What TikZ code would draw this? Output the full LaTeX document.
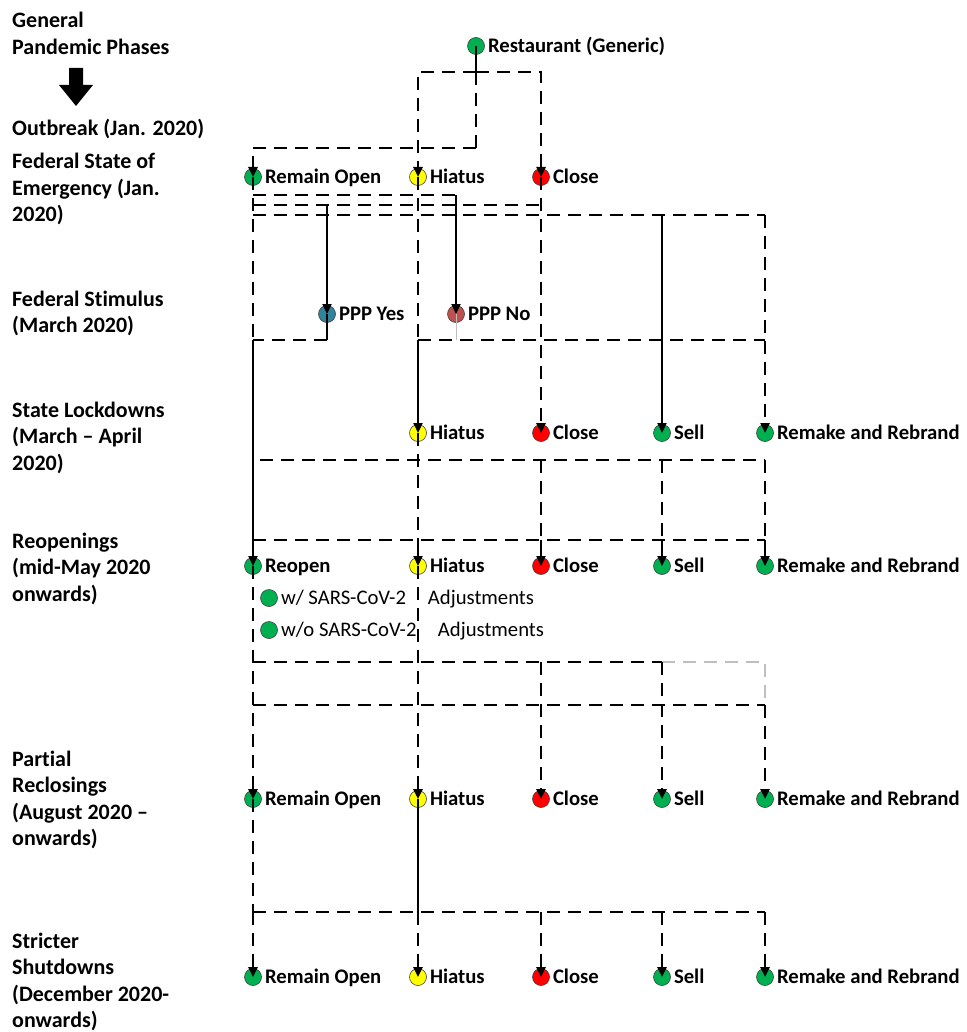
\documentclass[tikz,border=0pt]{standalone}
\usepackage{fontspec}
\setmainfont{Carlito}[Ligatures={TeX,NoCommon}]
\usepackage{xcolor}
\usetikzlibrary{arrows.meta, positioning, calc}
\definecolor{vert}{HTML}{00B050}
\definecolor{jaune}{HTML}{FFFF00}
\definecolor{rouge}{HTML}{FF0000}
\definecolor{bleu}{HTML}{31849B}
\definecolor{brique}{HTML}{C0504D}
\tikzset{
  phase/.style={anchor=base west, text width=240pt, align=flush left, inner sep=0pt,
    font=\bfseries\fontsize{22}{26.5}\selectfont},
  pt/.style={circle, draw=black!75, line width=0.6pt, minimum size=17pt, inner sep=0pt, fill=#1},
  lbl/.style={font=\bfseries\fontsize{20.7}{24}\selectfont, inner sep=3pt, text height=13.5pt, text depth=0pt},
  sous/.style={font=\fontsize{20.7}{24}\selectfont, inner sep=3pt, text height=13.5pt, text depth=0pt},
  dline/.style={line width=2.4pt, dash pattern=on 13pt off 8pt},
  sline/.style={line width=2.2pt},
  gline/.style={line width=1pt, black!25},
  gdline/.style={line width=2.4pt, black!25, dash pattern=on 13pt off 8pt},
  fleche/.style={-{Triangle[width=9pt,length=10pt]}}
}
\begin{document}
\begin{tikzpicture}[x=1pt, y=-1pt]
    \useasboundingbox (0,0) rectangle (966,1032);
    % phases
    \node[phase] (ph0) at (12,28) {General\\Pandemic Phases};
    \fill (69,68) -- (83,68) -- (83,85) -- (93,85) -- (76,106) -- (59,85) -- (69,85) -- cycle;
    \node[phase] (ph1) at (12,136) {Outbreak (Jan. 2020)};
    \node[phase] (ph2) at (12,169) {Federal State of\\Emergency (Jan.\\2020)};
    \node[phase] (ph3) at (12,306) {Federal Stimulus\\(March 2020)};
    \node[phase] (ph4) at (12,417) {State Lockdowns\\(March -- April\\2020)};
    \node[phase] (ph5) at (12,548) {Reopenings\\(mid-May 2020\\onwards)};
    \node[phase] (ph6) at (12,766) {Partial\\Reclosings\\(August 2020 --\\onwards)};
    \node[phase] (ph7) at (12,948) {Stricter\\Shutdowns\\(December 2020-\\onwards)};

    % choices
    \node[pt=vert, label={[lbl]right:Restaurant (Generic)}] (rest) at (476,46) {};
    \node[pt=vert, label={[lbl]right:Remain Open}] (ro1) at (253,177) {};
    \node[pt=jaune, label={[lbl]right:Hiatus}] (hia1) at (418,177) {};
    \node[pt=rouge, label={[lbl]right:Close}] (clo1) at (541,177) {};
    \node[pt=bleu, label={[lbl]right:PPP Yes}] (ppy) at (327,314) {};
    \node[pt=brique, label={[lbl]right:PPP No}] (ppn) at (456,314) {};
    \node[pt=vert, label={[lbl]right:Reopen}] (ro3) at (253,566) {};
    \node[pt=vert, label={[sous]right:\makebox[147pt][l]{w/ SARS-CoV-2}Adjustments}] (adj1) at (269,598) {};
    \node[pt=vert, label={[sous]right:\makebox[157pt][l]{w/o SARS-CoV-2}Adjustments}] (adj2) at (269,630) {};
    \node[pt=vert, label={[lbl]right:Remain Open}] (ro4) at (253,799) {};
    \node[pt=vert, label={[lbl]right:Remain Open}] (ro5) at (253,977) {};
    \foreach \r/\y in {2/433, 3/566, 4/799, 5/977} {
      \node[pt=jaune, label={[lbl]right:Hiatus}] (hia\r) at (418,\y) {};
      \node[pt=rouge, label={[lbl]right:Close}] (clo\r) at (541,\y) {};
      \node[pt=vert, label={[lbl]right:Sell}] (sel\r) at (662,\y) {};
      \node[pt=vert, label={[lbl]right:Remake and Rebrand}] (rem\r) at (765,\y) {};
    }

    % restaurant -> first choice
    \coordinate (b0a) at (0,72);
    \coordinate (b0b) at (0,148);
    \draw[sline] (rest.center) -- (rest |- b0a);
    \draw[dline] (rest |- b0a) -- (rest |- b0b);
    \draw[dline, fleche] (rest |- b0b) -| (ro1.center);
    \draw[dline, fleche] (rest |- b0a) -| (hia1.center);
    \draw[dline, fleche] (rest |- b0a) -| (clo1.center);

    % emergency -> stimulus
    \coordinate (b1a) at (0,195);
    \coordinate (b1b) at (0,205);
    \coordinate (b1c) at (0,215);
    \coordinate (b2) at (0,340);
    \draw[dline] (ro1.center) -- (ro1 |- b2);
    \draw[dline] (ro1 |- b1a) -- (ppn |- b1a);
    \draw[dline] (ro1 |- b1b) -- (clo1 |- b1b);
    \draw[dline] (ro1 |- b1c) -- (rem2 |- b1c);
    \draw[sline, fleche] (ppy |- b1b) -- (ppy.center);
    \draw[sline, fleche] (ppn |- b1a) -- (ppn.center);
    \draw[dline] (hia1.center) -- (hia1 |- b2);
    \draw[dline, fleche] (clo1.center) -- (clo2.center);
    \draw[sline, fleche] (sel2 |- b1c) -- (sel2.center);
    \draw[dline, fleche] (rem2 |- b1c) -- (rem2.center);

    % stimulus -> lockdowns
    \draw[sline] (ppy.center) -- (ppy |- b2);
    \draw[dline] (ppy |- b2) -- (ro1 |- b2);
    \draw[sline, fleche] (ro1 |- b2) -- (ro3.center);
    \draw[gline] (ppn.center) -- (ppn |- b2);
    \draw[dline] (hia1 |- b2) -- (rem2 |- b2);
    \draw[sline, fleche] (hia1 |- b2) -- (hia2.center);

    % lockdowns -> reopenings
    \coordinate (b3a) at (0,460);
    \coordinate (b3b) at (0,540);
    \draw[dline] (hia2.center) -- (hia2 |- b3b);
    \draw[dline] ($(ro3 |- b3a)+(7,0)$) -- (rem2 |- b3a);
    \draw[dline] (ro3 |- b3b) -- (rem3 |- b3b);
    \foreach \n in {clo, sel, rem}
      \draw[dline] (\n2 |- b3a) -- (\n2 |- b3b);
    \foreach \n in {hia, clo, sel, rem}
      \draw[sline, fleche] (\n3 |- b3b) -- (\n3.center);

    % reopenings -> partial reclosings
    \coordinate (b4a) at (0,662);
    \coordinate (b4b) at (0,705);
    \draw[dline, fleche] (ro3.center) -- (ro4.center);
    \draw[dline, fleche] (hia3.center) -- (hia4.center);
    \draw[dline] (ro3 |- b4a) -- (sel3 |- b4a);
    \draw[gdline] (sel3 |- b4a) -- (rem3 |- b4a) -- (rem3 |- b4b);
    \draw[dline] (ro3 |- b4b) -- (rem3 |- b4b);
    \draw[dline, fleche] (clo3 |- b4a) -- (clo4.center);
    \draw[dline, fleche] (sel3 |- b4a) -- (sel4.center);
    \draw[dline, fleche] (rem3 |- b4b) -- (rem4.center);

    % partial reclosings -> stricter shutdowns
    \coordinate (b5) at (0,912);
    \draw[dline] (ro4.center) -- (ro4 |- b5);
    \draw[sline] (hia4.center) -- (hia4 |- b5);
    \draw[dline] (ro4 |- b5) -- (rem5 |- b5);
    \foreach \n in {ro, hia, clo, sel, rem}
      \draw[dline, fleche] (\n5 |- b5) -- (\n5.center);
\end{tikzpicture}
\end{document}
